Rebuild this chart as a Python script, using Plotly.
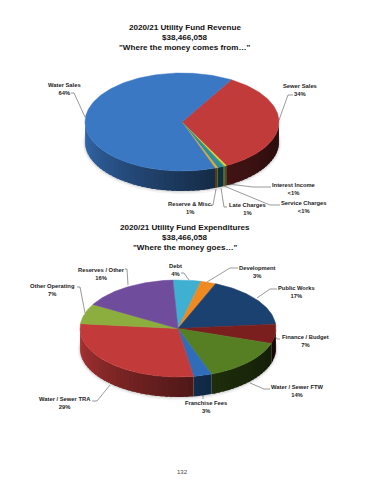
import numpy as np
import plotly.graph_objects as go

# ---- data ----
rev_names = ["Sewer Sales", "Interest Income", "Service Charges", "Late Charges", "Reserve & Misc.", "Water Sales"]
rev_pct_labels = ["34%", "<1%", "<1%", "1%", "1%", "64%"]
rev_values = [34.0, 0.3, 0.2, 1.05, 0.45, 64.0]
rev_colors = ["#C23B3B", "#E8E23C", "#6FAE3C", "#2C8FA0", "#E3A82B", "#3B78C4"]

exp_names = ["Debt", "Development", "Public Works", "Finance / Budget", "Water / Sewer FTW",
             "Franchise Fees", "Water / Sewer TRA", "Other Operating", "Reserves / Other"]
exp_pct_labels = ["4%", "3%", "17%", "7%", "14%", "3%", "29%", "7%", "16%"]
exp_values = [4.6, 2.5, 17.3, 6.4, 14.5, 3.0, 29.1, 6.7, 15.9]
exp_colors = ["#3FAFD2", "#EE8A20", "#1B4170", "#7A1E1E", "#557F22", "#2F6DB8", "#C23A3A", "#8CAE3E", "#6F4D9C"]

rev_titles = ["2020/21 Utility Fund Revenue", "$38,466,058", "\"Where the money comes from\u2026\""]
exp_titles = ["2020/21 Utility Fund Expenditures", "$38,466,058", "\"Where the money goes\u2026\""]
page_number = "132"

# ---- layout (pixels of the page) ----
PAGE_MARGIN = 8  # the browser's default body margin
REV_GEOM = dict(cx=182, cy=122, rx=97, ry=49, depth=20, start=30.5)
EXP_GEOM = dict(cx=178, cy=328.5, rx=98, ry=48.5, depth=20, start=-3.0)

# name -> label centre, leader polyline
REV_LABELS = {
    "Water Sales": ((64, 88.5), [(71, 93), (74, 93), (85, 117)]),
    "Sewer Sales": ((300, 90), [(293, 95), (288, 95), (279, 120)]),
    "Interest Income": ((294, 189), [(271, 187), (253, 187), (228, 184)]),
    "Service Charges": ((303, 206.5), [(280, 205), (270, 205), (224, 186)]),
    "Late Charges": ((247, 208.5), [(227, 207), (224, 207), (221, 188)]),
    "Reserve & Misc.": ((190, 207.5), [(211, 205), (213, 205), (216, 189)]),
}
EXP_LABELS = {
    "Reserves / Other": ((101, 273.5), [(125, 269), (127, 269), (128, 285)]),
    "Other Operating": ((52, 289.5), [(77, 287), (80, 287), (85, 313)]),
    "Debt": ((175, 269.5), [(181, 273), (184, 273), (189, 280)]),
    "Development": ((257, 271.5), [(238, 268), (230, 268), (207, 282)]),
    "Public Works": ((296, 291.5), [(277, 289), (270, 289), (257, 298)]),
    "Finance / Budget": ((305, 340.5), [(280, 339), (277, 339), (275, 336)]),
    "Water / Sewer FTW": ((297, 390.5), [(270, 389), (264, 389), (250, 383)]),
    "Franchise Fees": ((206, 406.5), [(203, 399), (203, 396)]),
    "Water / Sewer TRA": ((65, 402.5), [(92, 401), (97, 401), (110, 385)]),
}
FONT = "Liberation Sans"

fig = go.Figure()


def shade(hex_color, f):
    r, g, b = (int(hex_color[i:i + 2], 16) for i in (1, 3, 5))
    return f"rgb({int(r * f)},{int(g * f)},{int(b * f)})"


def poly(xs, ys, color, line=0.5):
    fig.add_trace(go.Scatter(x=xs, y=ys, mode="lines", fill="toself", fillcolor=color,
                             line=dict(color=color, width=line), hoverinfo="skip", showlegend=False))


def wall_factor(theta):
    return float(np.interp(theta, [90, 160, 200, 270], [0.2, 0.36, 0.55, 0.9]))


def draw_pie(values, colors, g):
    cx, cy, rx, ry, d, start = g["cx"], g["cy"], g["rx"], g["ry"], g["depth"], g["start"]
    px = lambda t: cx + rx * np.sin(np.radians(t))
    py = lambda t: cy - ry * np.cos(np.radians(t))
    # soft shadow
    t = np.linspace(0, 360, 181)
    for grow, alpha in ((2.5, 0.06), (1.2, 0.12)):
        poly(cx + (rx + grow) * np.sin(np.radians(t)),
             cy + d + grow * 0.3 - (ry + grow) * np.cos(np.radians(t)), f"rgba(60,60,60,{alpha})", line=0)
    edges = start + np.cumsum([0] + list(values)) / sum(values) * 360
    # front walls: each strip overlaps the next so that no seam shows
    for v0, v1, c in zip(edges[:-1], edges[1:], colors):
        for k in (-1, 0, 1):
            a0, a1 = max(v0 + 360 * k, 90), min(v1 + 360 * k, 270)
            if a1 <= a0:
                continue
            n = max(1, int((a1 - a0) / 3))
            steps = np.linspace(a0, a1, n + 1)
            for s0, s1 in zip(steps[:-1], steps[1:]):
                th = np.linspace(s0, min(s1 + 2, a1), 5)
                poly(list(px(th)) + list(px(th[::-1])),
                     list(py(th)) + list(py(th[::-1]) + d),
                     shade(c, wall_factor((s0 + s1) / 2)), line=0)
    # top faces
    for v0, v1, c in zip(edges[:-1], edges[1:], colors):
        th = np.linspace(v0, v1, max(2, int(v1 - v0) + 2))
        poly([cx] + list(px(th)) + [cx], [cy] + list(py(th)) + [cy], c)


def draw_labels(names, pcts, layout):
    for name, pct in zip(names, pcts):
        (lx, ly), leader = layout[name]
        xs, ys = zip(*leader)
        fig.add_trace(go.Scatter(x=xs, y=ys, mode="lines", line=dict(color="#555555", width=0.6),
                                 hoverinfo="skip", showlegend=False))
        fig.add_annotation(x=lx, y=ly, xref="x", yref="y", text=f"<b>{name}<br>{pct}</b>", showarrow=False,
                           font=dict(family=FONT, size=5.8, color="#222222"), align="center")


draw_pie(rev_values, rev_colors, REV_GEOM)
draw_pie(exp_values, exp_colors, EXP_GEOM)
draw_labels(rev_names, rev_pct_labels, REV_LABELS)
draw_labels(exp_names, exp_pct_labels, EXP_LABELS)

for lines, ys in ((rev_titles, (27, 37, 47.5)), (exp_titles, (227, 237, 247.5))):
    for line, y in zip(lines, ys):
        fig.add_annotation(x=185, y=y, xref="x", yref="y", text=f"<b>{line}</b>", showarrow=False,
                           font=dict(family=FONT, size=8.1, color="#111111"))
fig.add_annotation(x=182, y=472, xref="x", yref="y", text=page_number, showarrow=False,
                   font=dict(family=FONT, size=6, color="#444444"))

fig.update_layout(width=370 - PAGE_MARGIN, height=480 - PAGE_MARGIN, margin=dict(l=0, r=0, t=0, b=0), autosize=False,
                  paper_bgcolor="white", plot_bgcolor="white", showlegend=False,
                  xaxis=dict(range=[PAGE_MARGIN, 370], visible=False, fixedrange=True),
                  yaxis=dict(range=[480, PAGE_MARGIN], visible=False, fixedrange=True))
fig.write_html("out.html", config=dict(displayModeBar=False))
